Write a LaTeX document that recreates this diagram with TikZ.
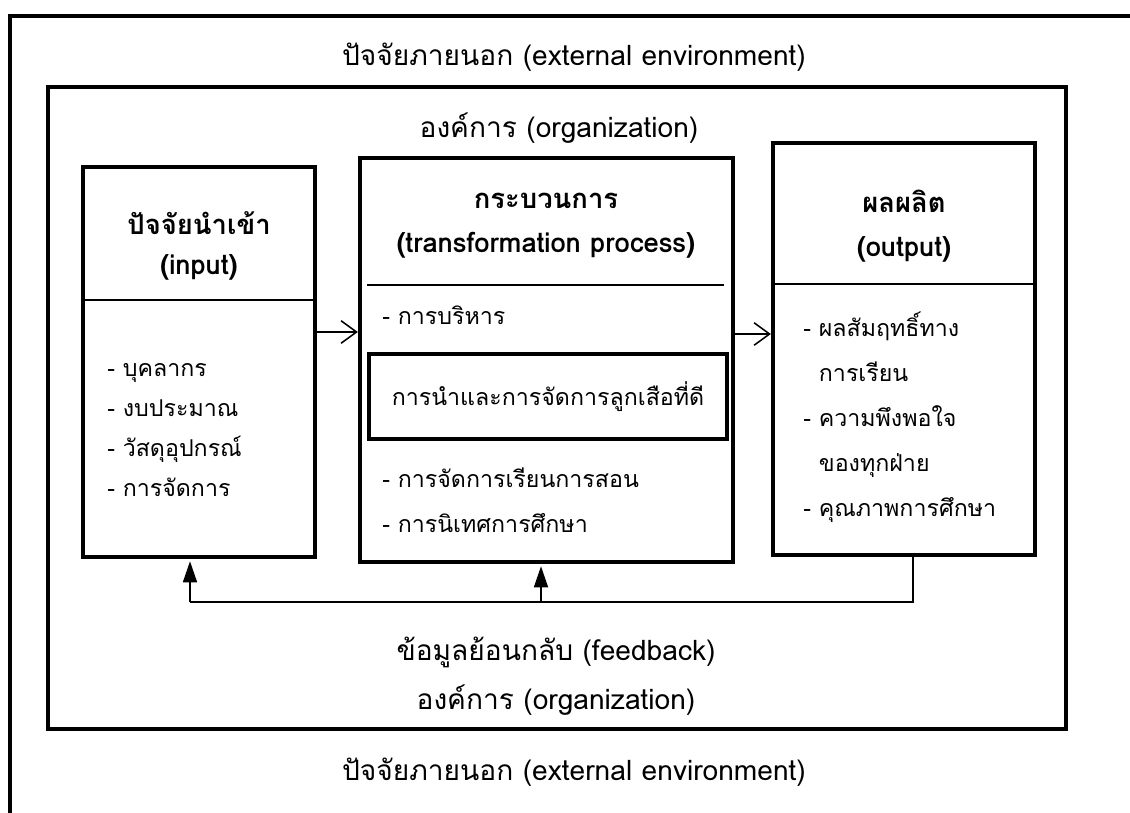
\documentclass[tikz,border=0pt]{standalone}
\usepackage{fontspec}
\setmainfont[Script=Thai]{Loma}
\usetikzlibrary{arrows.meta}

\begin{document}
\begin{tikzpicture}[x=0.025cm,y=-0.025cm,
    frame/.style={line width=3.1pt},
    box/.style={draw,line width=3pt,inner sep=0pt},
    rule/.style={line width=1.1pt},
    big/.style={font=\fontsize{20}{24}\selectfont},
    txt/.style={font=\fontsize{16.5}{28.5}\selectfont,align=left,inner sep=0pt},
    head/.style={font=\fontsize{19.5}{31.5}\selectfont\bfseries,align=center,inner sep=0pt},
    flow/.style={line width=1.1pt,-{Straight Barb[length=11pt,width=16pt]}},
    back/.style={line width=1.1pt,-{Triangle[length=15pt,width=10pt]}}]
    \useasboundingbox (0,0) rectangle (1130,813);
    \draw[frame] (10,813) -- (10,16) -- (1130,16);
    \draw[frame] (48,87) rectangle (1066,729);
    \node[box, minimum width=5.8cm, minimum height=9.75cm] (input) at (199,362) {};
    \node[box, minimum width=9.325cm, minimum height=10.1cm] (process) at (546.5,360) {};
    \node[box, minimum width=6.55cm, minimum height=10.3cm] (output) at (904,349) {};
    \node[box, minimum width=8.95cm, minimum height=2.125cm] (scout) at (548,396.5) {};
    \draw[rule] (input.west |- 0,300) -- (input.east |- 0,300);
    \draw[rule] (367,285) -- (724,285);
    \draw[rule] (output.west |- 0,284) -- (output.east |- 0,284);

    \node[big] (extTop) at (574,57) {ปัจจัยภายนอก (external environment)};
    \node[big] (orgTop) at (559,128) {องค์การ (organization)};
    \node[big] (feed) at (556,652) {ข้อมูลย้อนกลับ (feedback)};
    \node[big] (orgBot) at (556,700) {องค์การ (organization)};
    \node[big] (extBot) at (574,772) {ปัจจัยภายนอก (external environment)};

    \node[head, font=\fontsize{19.5}{29}\selectfont\bfseries] (inHead) at (199,246) {ปัจจัยนำเข้า\\(input)};
    \node[head] (prHead) at (546,226) {กระบวนการ\\(transformation process)};
    \node[head] (outHead) at (904,226) {ผลผลิต\\(output)};

    \node[txt, anchor=west] (inList) at (107,430) {- บุคลากร\\- งบประมาณ\\- วัสดุอุปกรณ์\\- การจัดการ};
    \node[txt, anchor=west] (prTop) at (382,315) {- การบริหาร};
    \node[txt] (scoutText) at (scout) {การนำและการจัดการลูกเสือที่ดี};
    \node[txt, anchor=west, font=\fontsize{16.5}{32}\selectfont] (prList) at (382,500) {- การจัดการเรียนการสอน\\- การนิเทศการศึกษา};
    \node[txt, anchor=west, font=\fontsize{16.5}{32}\selectfont] (outList) at (803,417) {- ผลสัมฤทธิ์ทาง\\\ \ การเรียน\\- ความพึงพอใจ\\\ \ ของทุกฝ่าย\\- คุณภาพการศึกษา};

    \coordinate (a1) at (0,332);
    \coordinate (a2) at (0,334);
    \draw[flow] (input.east |- a1) -- (process.west |- a1);
    \draw[flow] (process.east |- a2) -- (output.west |- a2);

    \coordinate (fbL) at (190,602);
    \coordinate (fbM) at (541,602);
    \coordinate (fbR) at (913,602);
    \draw[line width=1.1pt] (output.south -| fbR) -- (fbR) -- (fbL);
    \draw[back] (fbL) -- ([yshift=-1.5pt]input.south -| fbL);
    \draw[back] (fbM) -- ([yshift=-1.5pt]process.south -| fbM);
\end{tikzpicture}
\end{document}
